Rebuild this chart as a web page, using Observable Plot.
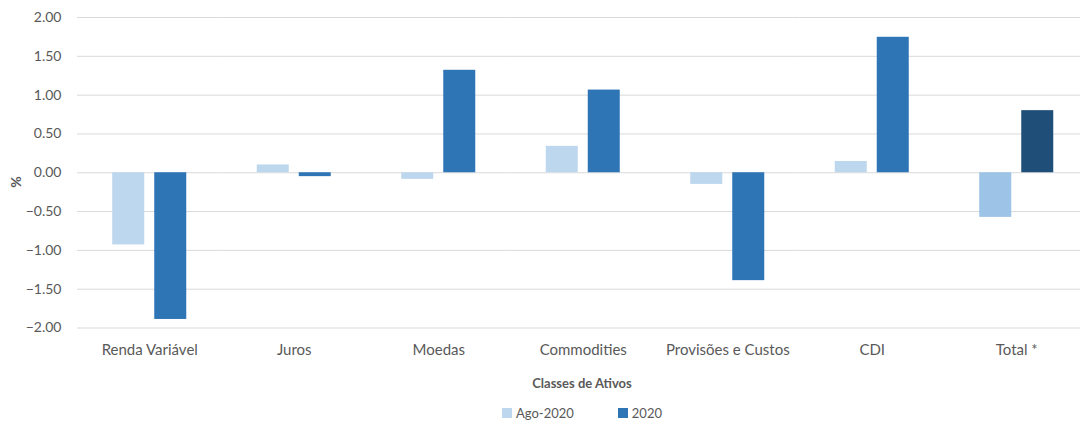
<!DOCTYPE html>
<html>
<head>
<meta charset="utf-8">
<script src="https://cdn.jsdelivr.net/npm/d3@7"></script>
<script src="https://cdn.jsdelivr.net/npm/@observablehq/plot@0.6"></script>
<style>
  html, body { margin: 0; padding: 0; background: #fff; }
  #wrap { position: relative; width: 1080px; height: 423px; overflow: hidden; font-family: Lato, "Open Sans", sans-serif; color: #595959; }
  #chart { position: absolute; left: 0; top: 0; width: 1089px; }
  #chart svg { max-width: none !important; }
  #ylabel { position: absolute; left: 15px; top: 182px; transform: translate(-50%, -50%) rotate(-90deg); font-size: 14px; font-weight: bold; color: #595959; }
  #xlabel { position: absolute; left: 582px; top: 383px; transform: translate(-50%, -50%); font-size: 13px; font-weight: bold; color: #595959; white-space: nowrap; }
  #legend { position: absolute; left: 582px; top: 413px; transform: translate(-50%, -50%); font-size: 13px; color: #595959; white-space: nowrap; display: flex; align-items: center; }
  .sw { display: inline-block; width: 10px; height: 10px; margin-right: 4px; }
  .item { display: inline-flex; align-items: center; }
</style>
</head>
<body>
<div id="wrap">
  <div id="chart"></div>
  <div id="ylabel">%</div>
  <div id="xlabel">Classes de Ativos</div>
  <div id="legend"></div>
</div>
<script>
const categories = ["Renda Variável", "Juros", "Moedas", "Commodities", "Provisões e Custos", "CDI", "Total *"];
const series = ["Ago-2020", "2020"];
const agoValues = [-0.93, 0.10, -0.085, 0.34, -0.15, 0.145, -0.575];
const anoValues = [-1.89, -0.05, 1.32, 1.065, -1.39, 1.745, 0.80];
const yTicks = [-2, -1.5, -1, -0.5, 0, 0.5, 1, 1.5, 2];
const seriesColors = ["#bdd7ee", "#2e75b6"];
const totalColors = ["#9dc3e6", "#1f4e79"];

const data = [];
categories.forEach((c, i) => {
  data.push({category: c, series: series[0], value: agoValues[i]});
  data.push({category: c, series: series[1], value: anoValues[i]});
});

const fillOf = d => {
  const k = series.indexOf(d.series);
  return d.category === "Total *" ? totalColors[k] : seriesColors[k];
};

const chart = Plot.plot({
  width: 1088.5,
  height: 365,
  marginLeft: 77,
  marginRight: 0,
  marginTop: 17,
  marginBottom: 37.5,
  style: {fontFamily: "Lato, 'Open Sans', sans-serif", fontSize: "14px", color: "#595959", background: "#fff", maxWidth: "none"},
  fx: {domain: categories, paddingInner: 0, paddingOuter: 0, round: false, label: null, tickSize: 0, tickPadding: 16, axis: "bottom"},
  x: {domain: series, paddingInner: 10 / 42, paddingOuter: 0.839, round: false, axis: null},
  y: {domain: [-2, 2], ticks: yTicks, tickFormat: d3.format(".2f"), grid: false, label: null, tickSize: 0, tickPadding: 16},
  marks: [
    Plot.ruleY(yTicks, {stroke: "#d9d9d9", strokeWidth: 1}),
    Plot.barY(data, {fx: "category", x: "series", y: "value", fill: fillOf, inset: 0})
  ]
});
chart.querySelectorAll('g[aria-label="fx-axis"] text, g[aria-label="fx-axis tick label"] text').forEach(t => t.style.fontSize = "15px");
document.getElementById("chart").appendChild(chart);

const legend = document.getElementById("legend");
series.forEach((s, i) => {
  const item = document.createElement("span");
  item.className = "item";
  item.style.marginRight = i === 0 ? "44px" : "0";
  const sw = document.createElement("span");
  sw.className = "sw";
  sw.style.background = seriesColors[i];
  item.appendChild(sw);
  item.appendChild(document.createTextNode(s));
  legend.appendChild(item);
});
</script>
</body>
</html>
